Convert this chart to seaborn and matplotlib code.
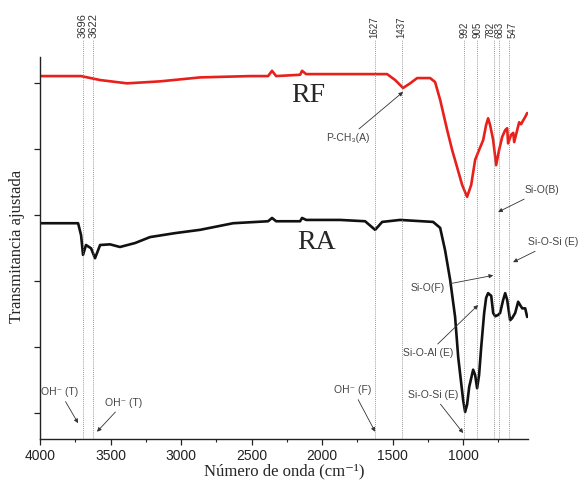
import numpy as np
import pandas as pd
import matplotlib
matplotlib.use('Agg')
import matplotlib.pyplot as plt
from matplotlib.ticker import MultipleLocator
import seaborn as sns

# Espectros FTIR (numero de onda, transmitancia ajustada)
rf_wn = [4000, 3709, 3574, 3383, 3149, 2865, 2511, 2383, 2355, 2326, 2156, 2142, 2113,
         1539, 1482, 1426, 1376, 1326, 1234, 1199, 1163, 1113, 1078, 1043, 1007, 972,
         943, 915, 887, 858, 837, 823, 809, 787, 766, 745, 723, 702, 688, 681, 660,
         645, 638, 617, 603, 589, 574, 560, 546]
rf_t = [5.50, 5.50, 5.44, 5.39, 5.42, 5.48, 5.50, 5.50, 5.58, 5.50, 5.52, 5.58, 5.53,
        5.53, 5.44, 5.32, 5.39, 5.47, 5.47, 5.41, 5.14, 4.68, 4.38, 4.12, 3.85, 3.67,
        3.85, 4.23, 4.38, 4.53, 4.76, 4.86, 4.76, 4.53, 4.15, 4.38, 4.58, 4.68, 4.71,
        4.48, 4.61, 4.64, 4.50, 4.68, 4.80, 4.77, 4.83, 4.88, 4.94]

ra_wn = [4000, 3730, 3709, 3695, 3674, 3638, 3610, 3574, 3504, 3433, 3326, 3220, 3043,
         2865, 2631, 2383, 2355, 2326, 2156, 2142, 2113, 1872, 1695, 1624, 1574, 1447,
         1213, 1163, 1128, 1092, 1057, 1035, 1014, 1000, 986, 972, 957, 929, 915, 901,
         887, 872, 851, 837, 823, 801, 787, 773, 752, 738, 716, 702, 688, 667, 653,
         631, 610, 596, 581, 560, 546]
ra_t = [3.27, 3.27, 3.09, 2.79, 2.94, 2.89, 2.74, 2.94, 2.95, 2.91, 2.97, 3.06, 3.12,
        3.17, 3.27, 3.30, 3.35, 3.30, 3.30, 3.35, 3.32, 3.32, 3.30, 3.17, 3.29, 3.32,
        3.29, 3.20, 2.86, 2.41, 1.85, 1.24, 0.85, 0.59, 0.41, 0.52, 0.79, 1.05, 0.97,
        0.77, 0.97, 1.39, 1.91, 2.14, 2.21, 2.17, 1.91, 1.86, 1.88, 1.91, 2.11, 2.21,
        2.11, 1.80, 1.83, 1.91, 2.08, 2.03, 1.98, 1.98, 1.85]

# Lineas de referencia (posicion en la grafica), etiqueta y donde va la etiqueta
line_pos = [3696, 3622, 1627, 1437, 992, 905, 782, 745, 674]
line_lab = ['3696', '3622', '1627', '1437', '992', '905', '782', '683', '547']
lab_pos = [3696, 3622, 1627, 1437, 992, 900, 809, 745, 650]

# Asignaciones: texto, posicion del texto, punta de la flecha
bandas = [
    ('P-CH\u2083(A)',   (1816, 4.56), (1426, 5.26)),
    ('Si-O(B)',         (440, 3.77),  (752, 3.44)),
    ('Si-O-Si (E)',     (362, 2.98),  (646, 2.68)),
    ('Si-O(F)',         (1248, 2.29), (787, 2.48)),
    ('Si-O-Al (E)',     (1248, 1.30), (894, 2.03)),
    ('OH\u207b (F)',    (1780, 0.74), (1624, 0.11)),
    ('Si-O-Si (E)',     (1213, 0.67), (1000, 0.09)),
    ('OH\u207b (T)',    (3858, 0.71), (3730, 0.24)),
    ('OH\u207b (T)',    (3404, 0.55), (3596, 0.11)),
]

df = pd.concat([
    pd.DataFrame({'wn': rf_wn, 't': rf_t, 'muestra': 'RF'}),
    pd.DataFrame({'wn': ra_wn, 't': ra_t, 'muestra': 'RA'}),
])

sns.set_style('ticks')
sans = ['Liberation Sans', 'DejaVu Sans']
serif = ['Liberation Serif', 'DejaVu Serif']

fig = plt.figure(figsize=(5.85, 4.82), dpi=100)
ax = fig.add_axes([0.0684, 0.0892, 0.8342, 0.8318])

sns.lineplot(data=df, x='wn', y='t', hue='muestra', estimator=None, sort=False,
             palette={'RF': '#e8201c', 'RA': '#111111'}, linewidth=1.9,
             legend=False, ax=ax)

ax.vlines(line_pos, 0, 6.05, colors='#777777', linestyles=(0, (1, 1.5)), lw=0.6)
for i, (p, lab) in enumerate(zip(lab_pos, line_lab)):
    fs = 8 if i < 2 else 7
    ax.text(p, 6.08, lab, rotation=90, ha='center', va='bottom', fontsize=fs,
            family=sans, color='#333333', clip_on=False)

for txt, xyt, xy in bandas:
    ax.annotate(txt, xy=xy, xytext=xyt, ha='center', va='center', fontsize=7.5,
                family=sans, color='#444444', annotation_clip=False,
                arrowprops=dict(arrowstyle='-|>', color='#333333', lw=0.6,
                                mutation_scale=6, shrinkA=1, shrinkB=0))

ax.text(2099, 5.20, 'RF', fontsize=20, family=serif, ha='center', va='center')
ax.text(2043, 2.98, 'RA', fontsize=20, family=serif, ha='center', va='center')

ax.set_xlim(4000, 540)
ax.set_ylim(0, 6.076)
ax.set_xticks([4000, 3500, 3000, 2500, 2000, 1500, 1000])
ax.xaxis.set_minor_locator(MultipleLocator(250))
ax.set_yticks([0.4, 1.4, 2.4, 3.4, 4.4, 5.4])
ax.set_yticklabels([])
ax.tick_params(axis='both', which='major', length=4, width=0.9, color='#222222')
ax.tick_params(axis='x', which='minor', length=2.5, width=0.8, color='#222222')
for lab in ax.get_xticklabels():
    lab.set_family(sans)
    lab.set_fontsize(10)
    lab.set_color('#222222')

ax.spines['top'].set_visible(False)
ax.spines['right'].set_visible(False)
ax.spines['left'].set_bounds(0, 5.79)
for s in ['left', 'bottom']:
    ax.spines[s].set_linewidth(1.0)
    ax.spines[s].set_color('#222222')

ax.set_xlabel('Número de onda (cm\u207b\u00b9)', family=serif, fontsize=12, labelpad=0)
ax.set_ylabel('Transmitancia ajustada', family=serif, fontsize=12)
ax.yaxis.set_label_coords(-0.03, 0.48)

plt.savefig('out.png', dpi=100)
